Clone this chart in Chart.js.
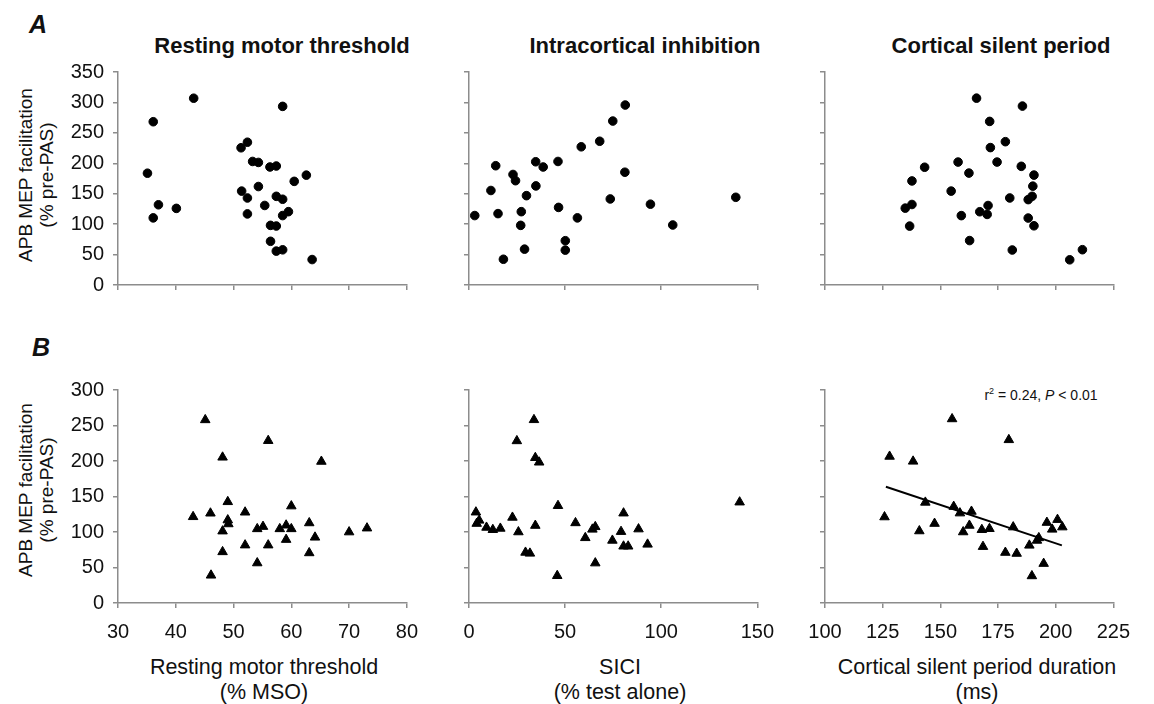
<!DOCTYPE html>
<html>
<head>
<meta charset="utf-8">
<script src="https://cdn.jsdelivr.net/npm/chart.js@4.4.1/dist/chart.umd.min.js"></script>
<style>
  html, body { margin: 0; padding: 0; background: #fff; }
  body { width: 1154px; height: 704px; position: relative; overflow: hidden;
         font-family: "Liberation Sans", Arial, sans-serif; color: #111; }
  canvas { position: absolute; }
  .lbl { position: absolute; transform: translate(-50%, -50%); white-space: nowrap; text-align: center; }
  .title { font-weight: bold; font-size: 22px; }
  .letter { font-weight: bold; font-style: italic; font-size: 25px; }
  .ytitle { font-size: 19px; line-height: 21px; transform: translate(-50%, -50%) rotate(-90deg); }
  .xtitle { font-size: 21.5px; line-height: 25px; }
  .annot { font-size: 14px; }
  .annot sup { font-size: 9px; vertical-align: 6px; line-height: 0; }
</style>
</head>
<body>
<div class="lbl letter" style="left:38px;top:24px;">A</div>
<div class="lbl letter" style="left:41px;top:347px;">B</div>
<div class="lbl title" style="left:282px;top:46px;">Resting motor threshold</div>
<div class="lbl title" style="left:645px;top:46px;">Intracortical inhibition</div>
<div class="lbl title" style="left:1001px;top:46px;">Cortical silent period</div>
<div class="lbl ytitle" style="left:36px;top:175px;">APB MEP facilitation<br>(% pre-PAS)</div>
<div class="lbl ytitle" style="left:36px;top:490px;">APB MEP facilitation<br>(% pre-PAS)</div>
<div class="lbl xtitle" style="left:264px;top:680px;">Resting motor threshold<br>(% MSO)</div>
<div class="lbl xtitle" style="left:620px;top:680px;">SICI<br>(% test alone)</div>
<div class="lbl xtitle" style="left:977px;top:680px;">Cortical silent period duration<br>(ms)</div>
<div class="lbl annot" style="left:1041px;top:395px;">r<sup>2</sup> = 0.24, <i>P</i> &lt; 0.01</div>

<canvas id="c1"></canvas><canvas id="c2"></canvas><canvas id="c3"></canvas>
<canvas id="c4"></canvas><canvas id="c5"></canvas><canvas id="c6"></canvas>

<script>
// ---- Data ----
// A: Resting motor threshold (% MSO) vs facilitation
const rmtA_x = [35.1,36.1,36.1,37.0,40.1,43.1,51.3,51.4,52.4,52.4,52.4,53.3,54.3,54.3,55.4,56.3,57.4,56.4,57.4,56.4,57.4,58.5,58.5,57.4,58.5,58.5,59.5,60.5,62.6,63.6];
const rmtA_y = [183.7,268.3,110.3,131.8,125.9,306.9,225.5,154.3,234.6,143.0,116.8,203.0,201.4,161.8,130.7,193.9,195.5,98.0,96.9,71.8,145.7,140.9,293.5,55.7,57.8,114.1,120.5,170.3,180.5,41.8];
// A: SICI (% test alone) vs facilitation
const siciA_x = [3.0,11.4,13.9,15.1,17.9,22.9,24.2,29.9,27.2,26.9,28.9,34.7,34.8,38.6,46.3,46.6,50.1,50.1,56.4,58.4,68.0,73.5,74.8,81.1,81.3,94.4,106.0,138.8];
const siciA_y = [114.1,155.3,196.0,117.3,42.3,181.6,171.4,146.8,120.5,98.0,58.9,202.5,162.8,193.9,203.0,127.5,72.8,57.3,110.3,227.1,236.2,141.4,269.4,185.3,295.7,132.8,98.6,144.1];
// A: Cortical silent period (ms) vs facilitation
const cspA_x = [134.8,136.7,137.7,137.7,143.2,154.7,157.7,159.1,162.4,162.7,165.7,167.1,170.3,170.7,171.4,171.7,174.6,178.2,180.1,181.2,185.1,185.6,188.1,188.1,189.8,190.1,190.6,190.6,206.1,211.6];
const cspA_y = [126.3,96.8,132.3,171.0,193.5,154.3,202.0,114.0,183.9,73.0,307.0,120.4,116.0,130.6,268.8,225.8,202.0,235.5,143.0,57.5,195.0,294.0,140.3,110.0,145.7,162.4,180.6,97.3,41.4,58.0];
// B: Resting motor threshold
const rmtB_x = [43.0,45.1,46.0,46.1,48.1,48.1,48.1,49.0,49.0,49.1,52.0,52.0,54.1,54.1,55.1,56.0,56.0,58.0,59.1,59.1,60.0,60.0,63.1,63.1,64.1,65.2,70.0,73.1];
const rmtB_y = [121.4,257.9,126.4,39.0,205.2,101.2,72.0,142.5,116.8,111.3,127.8,81.5,104.4,56.3,107.6,228.6,81.5,104.4,109.5,89.3,136.5,104.4,112.7,70.5,92.5,199.3,99.9,105.4];
// B: SICI
const siciB_x = [3.6,4.0,5.3,9.1,12.4,16.3,22.6,24.9,25.7,29.4,31.7,33.8,34.5,34.5,36.5,45.9,46.3,55.4,60.5,64.2,65.7,65.7,74.6,79.1,80.4,80.4,82.8,88.2,92.9,140.8];
const siciB_y = [127.9,111.9,116.4,106.4,103.2,105.0,120.5,228.3,100.0,71.2,69.9,258.0,204.6,109.1,198.2,38.4,137.0,112.8,91.8,103.7,107.3,56.2,88.1,100.5,126.5,79.9,79.9,104.1,82.6,142.0];
// B: Cortical silent period
const cspB_x = [125.8,128.0,138.2,140.9,143.5,147.5,155.1,155.8,158.5,159.9,162.6,163.5,168.0,168.5,171.3,178.2,179.7,181.6,183.1,188.6,189.7,191.9,192.7,194.8,196.2,198.5,200.8,202.9];
const cspB_y = [121.1,206.4,199.5,101.4,141.7,111.9,259.2,135.8,126.6,100.0,109.2,128.9,103.2,79.4,104.6,71.1,229.8,106.9,69.7,81.2,38.1,88.1,91.7,55.5,113.3,103.7,117.4,106.9];
// B: regression line endpoints
const fitB_x = [126.4, 202.7];
const fitB_y = [163.8, 81.2];

// Axis tick settings
const rmtTicks = {min: 30, max: 80, step: 10};
const siciTicks = {min: 0, max: 150, step: 50};
const cspTicks = {min: 100, max: 225, step: 25};
const yTicksA = {min: 0, max: 350, step: 50};
const yTicksB = {min: 0, max: 300, step: 50};

const pts = (xs, ys) => xs.map((x, i) => ({x: x, y: ys[i]}));

const AX = '#8c8c8c';
const TXT = '#111';
const YW = 70, XH = 45, PT = 15, PR = 15;

function panel(id, L, R, T, B, xt, yt, showX, showY, datasets) {
  const cv = document.getElementById(id);
  const w = (R - L) + YW + PR, h = (B - T) + PT + XH;
  cv.width = w; cv.height = h;
  cv.style.left = (L - YW) + 'px'; cv.style.top = (T - PT) + 'px';
  cv.style.width = w + 'px'; cv.style.height = h + 'px';
  new Chart(cv, {
    type: 'scatter',
    data: {datasets: datasets},
    options: {
      responsive: false, animation: false, devicePixelRatio: 1,
      layout: {autoPadding: false, padding: {top: PT, right: PR, left: 0, bottom: 0}},
      plugins: {legend: {display: false}, tooltip: {enabled: false}},
      scales: {
        x: {
          type: 'linear', min: xt.min, max: xt.max,
          afterFit: s => { s.height = XH; },
          ticks: {stepSize: xt.step, color: showX ? TXT : 'rgba(0,0,0,0)', padding: 12,
                  font: {family: '"Liberation Sans", Arial, sans-serif', size: 20}, maxRotation: 0, autoSkip: false},
          grid: {drawOnChartArea: false, drawTicks: true, tickLength: 5, color: AX, lineWidth: 1.5},
          border: {color: AX, width: 1.5}
        },
        y: {
          type: 'linear', min: yt.min, max: yt.max,
          afterFit: s => { s.width = YW; },
          ticks: {stepSize: yt.step, color: showY ? TXT : 'rgba(0,0,0,0)', padding: 9,
                  font: {family: '"Liberation Sans", Arial, sans-serif', size: 20}, autoSkip: false},
          grid: {drawOnChartArea: false, drawTicks: true, tickLength: 5, color: AX, lineWidth: 1.5},
          border: {color: AX, width: 1.5}
        }
      }
    }
  });
}

const dotStyle = {pointStyle: 'circle', pointRadius: 4.3, backgroundColor: '#000', borderColor: '#000', borderWidth: 1, clip: false};
const triStyle = {pointStyle: 'triangle', pointRadius: 5.5, backgroundColor: '#000', borderColor: '#000', borderWidth: 1, clip: false};

panel('c1', 118, 415, 66, 285, rmtTicks, yTicksA, false, true, [Object.assign({data: pts(rmtA_x, rmtA_y)}, dotStyle)]);
panel('c2', 469, 771, 66, 285, siciTicks, yTicksA, false, false, [Object.assign({data: pts(siciA_x, siciA_y)}, dotStyle)]);
panel('c3', 825, 1127, 66, 285, cspTicks, yTicksA, false, false, [Object.assign({data: pts(cspA_x, cspA_y)}, dotStyle)]);
panel('c4', 118, 415, 384, 603, rmtTicks, yTicksB, true, true, [Object.assign({data: pts(rmtB_x, rmtB_y)}, triStyle)]);
panel('c5', 469, 771, 384, 603, siciTicks, yTicksB, true, false, [Object.assign({data: pts(siciB_x, siciB_y)}, triStyle)]);
panel('c6', 825, 1127, 384, 603, cspTicks, yTicksB, true, false, [
  Object.assign({data: pts(cspB_x, cspB_y)}, triStyle),
  {data: pts(fitB_x, fitB_y), showLine: true, borderColor: '#000', borderWidth: 2, pointRadius: 0, fill: false}
]);
</script>
</body>
</html>
